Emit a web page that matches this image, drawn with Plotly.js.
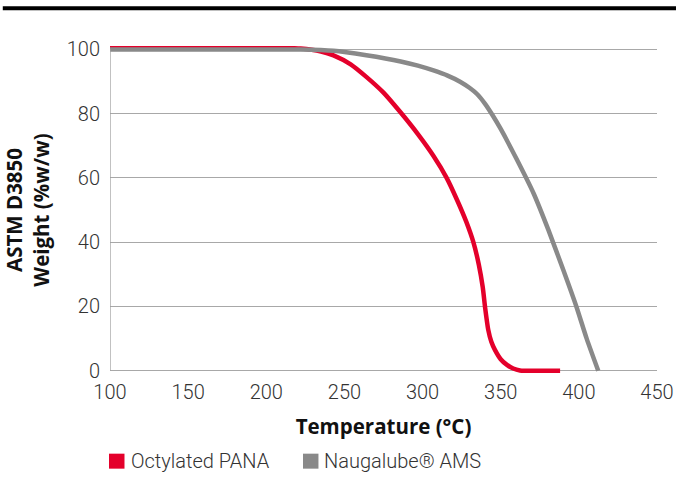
<!DOCTYPE html>
<html><head><meta charset="utf-8">
<script src="https://cdn.plot.ly/plotly-3.0.1.min.js"></script>
<style>html,body{margin:0;padding:0;background:#fff;}#chart{width:676px;height:478px;}</style>
</head><body><div id="chart"></div>
<script>
var seriesNames = ["Octylated PANA", "Naugalube® AMS"];
var seriesColors = ["#e4002b", "#898989"];
var panaTemp = [100, 150, 200, 222, 235, 243, 254, 264, 275, 286, 297, 307, 315.4, 322, 328, 332.5, 336, 338.5, 340, 342, 344, 346.3, 350, 353.8, 358, 362.3, 375, 388];
var panaWeight = [100.6, 100.6, 100.5, 100.2, 99.3, 98.1, 95.3, 91.4, 86.5, 80.3, 73.6, 66.8, 60, 53.2, 46.3, 40, 33, 26, 19.7, 12.8, 9, 6.5, 3.6, 1.9, 0.7, 0.1, 0, 0];
var amsTemp = [100, 150, 200, 222, 243, 264, 286, 297, 307, 316, 324, 330, 335, 340, 345, 350, 360, 371, 380.5, 390, 398.6, 405, 412.4];
var amsWeight = [99.9, 99.9, 99.9, 99.9, 99.5, 98.1, 96.2, 94.9, 93.4, 91.8, 89.9, 88.0, 86.0, 83.0, 79.3, 75.2, 66.0, 55.2, 43.8, 31.4, 19.7, 10, 0];
var xTicks = [100, 150, 200, 250, 300, 350, 400, 450];
var yTicks = [0, 20, 40, 60, 80, 100];

var lightFamily = "Roboto, 'Liberation Sans', sans-serif";
var tickFont = {family: lightFamily, size: 20, color: "#333", weight: 300};
var titleFont = {family: "'Open Sans', 'Liberation Sans', Arial, sans-serif", size: 20.5, color: "#111", weight: 700};

var data = [
  {x: panaTemp, y: panaWeight, mode: "lines", name: seriesNames[0], line: {color: seriesColors[0], width: 4.5, shape: "spline", smoothing: 0.6}, showlegend: false, hoverinfo: "skip"},
  {x: amsTemp, y: amsWeight, mode: "lines", name: seriesNames[1], line: {color: seriesColors[1], width: 4.5, shape: "spline", smoothing: 0.6}, showlegend: false, hoverinfo: "skip"}
];

// legend drawn as paper-positioned squares + labels
var legendX = [-0.0018, 0.3528];
var shapes = [
  {type: "line", xref: "x", yref: "y", x0: 100, x1: 100, y0: 0, y1: 100, line: {color: "#a0a0a0", width: 1.3}},
  {type: "line", xref: "paper", yref: "paper", x0: -0.196, x1: 1.05, y0: 1.1148, y1: 1.1148, line: {color: "#000", width: 4}}
];
var annotations = [];
seriesNames.forEach(function (nm, i) {
  shapes.push({type: "rect", xref: "paper", yref: "paper", x0: legendX[i], x1: legendX[i] + 0.0283, y0: -0.2886, y1: -0.2429, fillcolor: seriesColors[i], line: {width: 0}});
  annotations.push({xref: "paper", yref: "paper", x: legendX[i] + 0.0375, y: -0.2657, xanchor: "left", yanchor: "middle", showarrow: false, text: nm, font: {family: lightFamily, size: 20, color: "#333", weight: 300}, borderpad: 0});
});

var layout = {
  width: 676, height: 478,
  margin: {l: 110, r: 19, t: 45.78, b: 103.78, autoexpand: false},
  paper_bgcolor: "#fff", plot_bgcolor: "#fff",
  showlegend: false,
  xaxis: {range: [100, 450], tickvals: xTicks, ticktext: xTicks.map(String), showgrid: false, zeroline: false, showline: false,
          ticks: "", tickfont: tickFont, ticklabelstandoff: 4, automargin: false,
          title: {text: "Temperature (°C)", font: titleFont, standoff: 16}},
  yaxis: {range: [-1, 101], tickvals: yTicks, ticktext: yTicks.map(String), showgrid: true, gridcolor: "#a8a8a8", gridwidth: 1.3,
          zeroline: false, showline: false, ticks: "", tickfont: tickFont, ticklabelstandoff: 9, automargin: false,
          title: {text: "ASTM D3850<br>Weight (%w/w)", font: titleFont, standoff: 17}},
  shapes: shapes,
  annotations: annotations
};
Plotly.newPlot("chart", data, layout, {staticPlot: true, displayModeBar: false});
</script>
</body></html>
